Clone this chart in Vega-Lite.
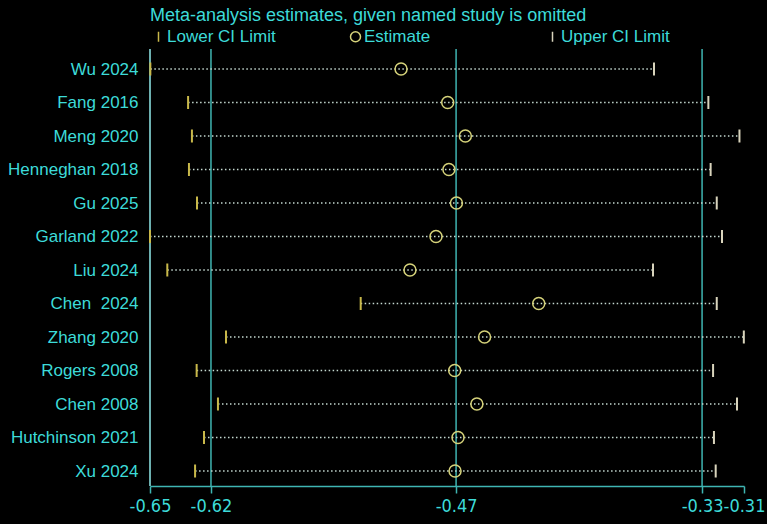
{
  "$schema": "https://vega.github.io/schema/vega-lite/v6.json",
  "width": 594,
  "height": 437,
  "autosize": {"type": "none"},
  "padding": {"left": 150, "top": 49, "right": 23, "bottom": 38},
  "background": "#000000",
  "config": {"view": {"stroke": null}, "font": "Liberation Sans"},
  "datasets": {
    "studies": [
      {"study": "Wu 2024", "Lower CI Limit": -0.6498, "Estimate": -0.5063, "Upper CI Limit": -0.3615},
      {"study": "Fang 2016", "Lower CI Limit": -0.6282, "Estimate": -0.4796, "Upper CI Limit": -0.3304},
      {"study": "Meng 2020", "Lower CI Limit": -0.6260, "Estimate": -0.4695, "Upper CI Limit": -0.3126},
      {"study": "Henneghan 2018", "Lower CI Limit": -0.6277, "Estimate": -0.4789, "Upper CI Limit": -0.3291},
      {"study": "Gu 2025", "Lower CI Limit": -0.6231, "Estimate": -0.4746, "Upper CI Limit": -0.3256},
      {"study": "Garland 2022", "Lower CI Limit": -0.6500, "Estimate": -0.4863, "Upper CI Limit": -0.3226},
      {"study": "Liu 2024", "Lower CI Limit": -0.6401, "Estimate": -0.5012, "Upper CI Limit": -0.3621},
      {"study": "Chen \u00a02024", "Lower CI Limit": -0.5294, "Estimate": -0.4275, "Upper CI Limit": -0.3256},
      {"study": "Zhang 2020", "Lower CI Limit": -0.6065, "Estimate": -0.4585, "Upper CI Limit": -0.3101},
      {"study": "Rogers 2008", "Lower CI Limit": -0.6233, "Estimate": -0.4756, "Upper CI Limit": -0.3277},
      {"study": "Chen 2008", "Lower CI Limit": -0.6111, "Estimate": -0.4629, "Upper CI Limit": -0.3140},
      {"study": "Hutchinson 2021", "Lower CI Limit": -0.6191, "Estimate": -0.4737, "Upper CI Limit": -0.3272},
      {"study": "Xu 2024", "Lower CI Limit": -0.6242, "Estimate": -0.4754, "Upper CI Limit": -0.3262}
    ],
    "refs": [{"v": -0.6151}, {"v": -0.4748}, {"v": -0.334}]
  },
  "layer": [
    {
      "data": {"name": "refs"},
      "mark": {"type": "rule", "color": "#3fb5b2", "strokeWidth": 1.5},
      "encoding": {
        "x": {"field": "v", "type": "quantitative", "scale": {"domain": [-0.65, -0.31], "nice": false, "zero": false},
          "axis": {"values": [-0.65, -0.6151, -0.4748, -0.334, -0.31], "labelExpr": "'-' + format(abs(datum.value), '.2f')", "labelFont": "DejaVu Sans Condensed", "labelFontSize": 18, "labelColor": "#3ddbd9", "domainColor": "#3fb5b2", "domainWidth": 1.5, "tickColor": "#3fb5b2", "tickWidth": 1.5, "tickSize": 7, "labelPadding": 4, "title": null, "grid": false, "labelFlush": false, "labelOverlap": false}}
      }
    },
    {
      "data": {"name": "refs"},
      "mark": {"type": "rule", "color": "#6fb3b3", "strokeWidth": 1.5},
      "encoding": {"x": {"datum": -0.65}}
    },
    {
      "data": {"name": "studies"},
      "mark": {"type": "rule", "strokeDash": [1.5, 2.5], "strokeWidth": 1.5, "color": "#c4d8d0"},
      "encoding": {
        "y": {"field": "study", "type": "nominal", "sort": null, "scale": {"type": "point", "range": [20, 422], "padding": 0},
          "axis": {"title": null, "ticks": false, "domain": false, "labelFontSize": 17, "labelColor": "#3ddbd9", "labelPadding": 12, "grid": false}},
        "x": {"field": "Lower CI Limit", "type": "quantitative"},
        "x2": {"field": "Upper CI Limit"}
      }
    },
    {
      "data": {"name": "studies"},
      "transform": [{"fold": ["Lower CI Limit", "Upper CI Limit"], "as": ["series", "value"]}],
      "mark": {"type": "point", "filled": false, "strokeWidth": 2, "size": 169, "opacity": 1},
      "encoding": {
        "y": {"field": "study", "type": "nominal", "sort": null},
        "x": {"field": "value", "type": "quantitative"},
        "color": {"field": "series", "type": "nominal",
          "scale": {"domain": ["Lower CI Limit", "Estimate", "Upper CI Limit"], "range": ["#c8b84a", "#d5d27a", "#d9d4bc"]},
          "legend": {"title": "Meta-analysis estimates, given named study is omitted", "titleLimit": 600, "orient": "top", "direction": "horizontal", "columns": 3, "gridAlign": "all", "columnPadding": 71, "symbolSize": 100, "symbolStrokeWidth": 1.5, "labelFontSize": 17, "labelColor": "#3ddbd9", "titleFontSize": 18, "titleFontWeight": "normal", "titleColor": "#3ddbd9", "titlePadding": 3, "offset": 4, "labelOffset": 0, "padding": 0}},
        "shape": {"field": "series", "type": "nominal",
          "scale": {"domain": ["Lower CI Limit", "Estimate", "Upper CI Limit"], "range": ["M0,-1L0,1", "circle", "M0,-1L0,1"]},
          "legend": {"title": "Meta-analysis estimates, given named study is omitted", "titleLimit": 600, "orient": "top", "direction": "horizontal", "columns": 3, "gridAlign": "all", "columnPadding": 71, "symbolSize": 100, "symbolStrokeWidth": 1.5, "labelFontSize": 17, "labelColor": "#3ddbd9", "titleFontSize": 18, "titleFontWeight": "normal", "titleColor": "#3ddbd9", "titlePadding": 3, "offset": 4, "labelOffset": 0, "padding": 0}}
      }
    },
    {
      "data": {"name": "studies"},
      "transform": [{"fold": ["Estimate"], "as": ["series", "value"]}],
      "mark": {"type": "point", "filled": false, "strokeWidth": 1.5, "size": 144, "opacity": 1},
      "encoding": {
        "y": {"field": "study", "type": "nominal", "sort": null},
        "x": {"field": "value", "type": "quantitative"},
        "color": {"field": "series", "type": "nominal"},
        "shape": {"field": "series", "type": "nominal"}
      }
    }
  ]
}
